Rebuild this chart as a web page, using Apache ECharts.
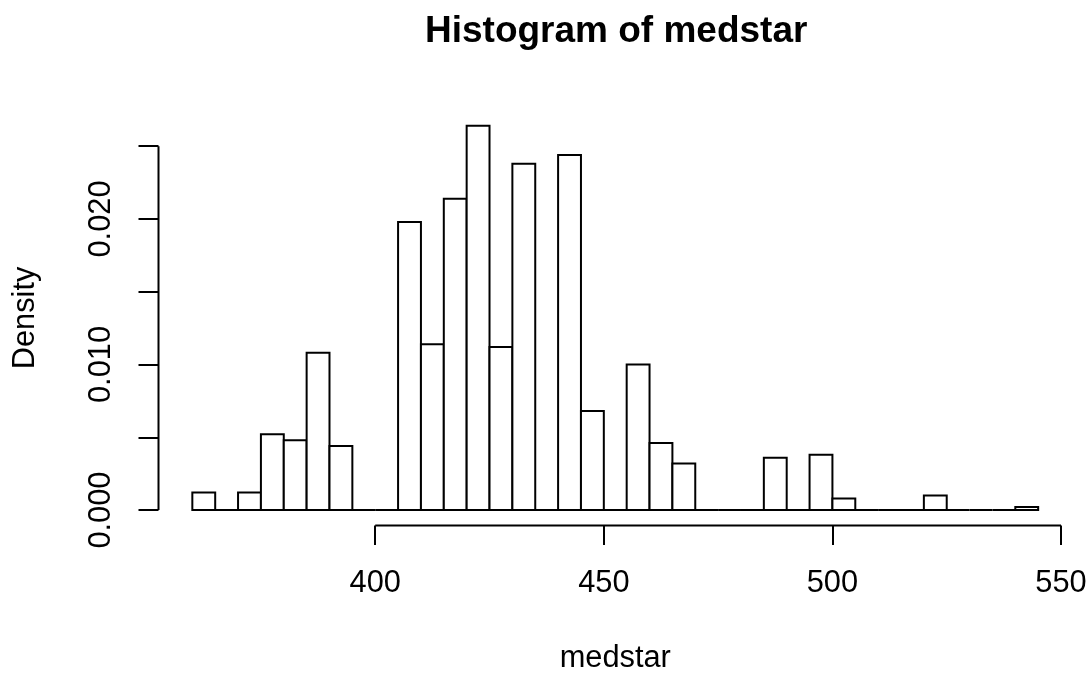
<!DOCTYPE html>
<html>
<head>
<meta charset="utf-8">
<script src="https://cdn.jsdelivr.net/npm/echarts@6/dist/echarts.min.js"></script>
<style>
  html, body { margin: 0; padding: 0; background: #ffffff; }
  #chart { width: 1090px; height: 673px; }
</style>
</head>
<body>
<div id="chart"></div>
<script>
// ---- data ----
const titleText = 'Histogram of medstar';
const xName = 'medstar';
const yName = 'Density';
// bin edges (width 5)
const breaks = [360, 365, 370, 375, 380, 385, 390, 395, 400, 405, 410, 415, 420, 425, 430, 435, 440, 445, 450,
                455, 460, 465, 470, 475, 480, 485, 490, 495, 500, 505, 510, 515, 520, 525, 530, 535, 540, 545];
// density of each bin
const density = [0.0012, 0, 0.0012, 0.0052, 0.0048, 0.0108, 0.0044, 0, 0, 0.0198, 0.0114, 0.0214, 0.0264, 0.0112,
                 0.0238, 0, 0.0244, 0.0068, 0, 0.0100, 0.0046, 0.0032, 0, 0, 0, 0.0036, 0, 0.0038, 0.0008, 0, 0, 0,
                 0.0010, 0, 0, 0, 0.0002];
const xTicks = [400, 450, 500, 550];
const yTicks = [0, 0.005, 0.010, 0.015, 0.020, 0.025];
const yLabels = [0, 0.010, 0.020];

// R-style 4% axis extension
const xRange = [breaks[0], breaks[breaks.length - 1]];
const yMaxData = Math.max.apply(null, density);
const xPad = (xRange[1] - xRange[0]) * 0.04;
const yPad = yMaxData * 0.04;
const xMin = xRange[0] - xPad, xMax = xRange[1] + xPad;
const yMin = -yPad, yMax = yMaxData + yPad;

const bins = density.map((d, i) => [breaks[i], breaks[i + 1], d]);

const FONT = 'Liberation Sans, Arial, Helvetica, sans-serif';
const chart = echarts.init(document.getElementById('chart'), null, { renderer: 'canvas' });

chart.setOption({
  backgroundColor: '#ffffff',
  animation: false,
  title: {
    text: titleText,
    left: 420,
    top: 8.5,
    textStyle: { fontFamily: FONT, fontWeight: 'bold', fontSize: 37, color: '#000' }
  },
  grid: { left: 158.5, right: 18, top: 110.5, bottom: 147.6, containLabel: false, outerBoundsMode: 'none' },
  xAxis: {
    type: 'value', min: xMin, max: xMax,
    name: xName, nameLocation: 'middle', nameGap: 118,
    nameTextStyle: { fontFamily: FONT, fontSize: 30.8, color: '#000' },
    axisLine: { show: false, onZero: false },
    axisTick: { show: true, inside: false, length: 19.5, customValues: xTicks, lineStyle: { color: '#000', width: 2 } },
    axisLabel: { show: true, customValues: xTicks, margin: 43, fontFamily: FONT, fontSize: 30.8, color: '#000' },
    splitLine: { show: false }
  },
  yAxis: {
    type: 'value', min: yMin, max: yMax,
    name: yName, nameLocation: 'middle', nameGap: 117,
    nameTextStyle: { fontFamily: FONT, fontSize: 30.8, color: '#000' },
    axisLine: { show: false, onZero: false },
    axisTick: { show: true, inside: false, length: 20, customValues: yTicks, lineStyle: { color: '#000', width: 2 } },
    axisLabel: { show: true, customValues: yLabels, rotate: 90, margin: 41, fontFamily: FONT, fontSize: 30.8, color: '#000',
                 formatter: v => Number(v).toFixed(3) },
    splitLine: { show: false }
  },
  series: [
    {
      type: 'custom',
      data: bins,
      clip: false,
      silent: true,
      renderItem: function (params, api) {
        const p0 = api.coord([api.value(0), 0]);
        const p1 = api.coord([api.value(1), api.value(2)]);
        return {
          type: 'rect',
          shape: { x: p0[0], y: p1[1], width: p1[0] - p0[0], height: p0[1] - p1[1] },
          style: { fill: '#ffffff', stroke: '#000000', lineWidth: 2 }
        };
      }
    },
    {
      // x axis line from first to last tick (R style)
      type: 'line', silent: true, clip: false, symbol: 'none',
      data: [[xTicks[0], yMin], [xTicks[xTicks.length - 1], yMin]],
      lineStyle: { color: '#000', width: 2 }
    },
    {
      // y axis line from first to last tick (R style)
      type: 'line', silent: true, clip: false, symbol: 'none',
      data: [[xMin, yTicks[0]], [xMin, yTicks[yTicks.length - 1]]],
      lineStyle: { color: '#000', width: 2 }
    }
  ]
});
</script>
</body>
</html>
